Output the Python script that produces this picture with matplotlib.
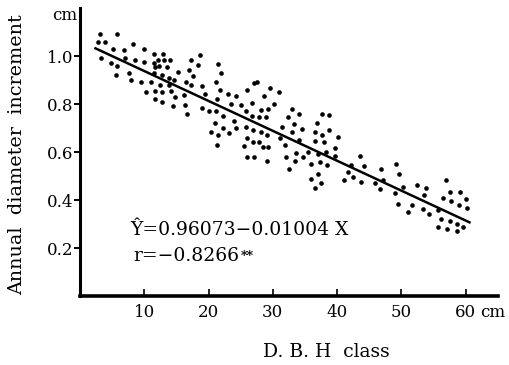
import matplotlib
matplotlib.use("Agg")
import matplotlib.pyplot as plt

# scatter points (D.B.H class in cm, increment in cm)
dbh = [
    3.1, 5.8, 2.8, 3.9, 8.2, 5.2, 6.9, 9.9, 11.5, 12.9, 3.2, 4.8, 5.8, 7.0,
    8.5, 10.0, 11.5, 12.1, 13.1, 14.0, 11.6, 12.3, 13.5, 5.6, 7.6, 11.5, 12.8,
    13.9, 7.9, 9.5, 11.0, 12.5, 13.8, 14.6, 10.3, 11.6, 12.8, 14.1, 11.6, 12.8,
    14.4, 14.7,
    18.6, 17.3, 18.4, 21.4, 15.3, 16.9, 17.5, 21.9, 16.5, 17.3, 21.1, 19.0,
    16.25, 19.4, 21.8, 23.0, 24.2, 26.0, 27.1, 21.25, 23.5, 25.1, 26.8, 16.4,
    18.9, 20.0, 21.1, 25.8, 22.2, 16.6, 24.0, 26.7, 21.0, 22.2, 24.2, 25.8,
    20.3, 21.4, 23.2, 26.9, 25.9, 21.25, 25.5, 26.9, 25.9, 27.1,
    27.6, 29.5, 30.9, 28.6, 30.2, 28.1, 29.2, 33.0, 27.8, 28.9, 34.0, 32.3,
    37.7, 38.7, 36.9, 33.3, 28.1, 29.1, 31.5, 34.5, 36.6, 37.7, 38.8, 31.1,
    33.0, 27.8, 34.1, 36.5, 37.9, 39.6, 31.9, 28.4, 29.3, 32.0, 33.6, 35.4,
    37.0, 38.3, 29.1, 33.5, 34.7, 36.0, 37.3, 38.5, 32.5, 37.1, 36.0, 37.5,
    36.6,
    40.2, 39.6, 43.6, 42.1, 44.2, 41.7, 41.0, 42.4, 43.75, 46.8, 49.2, 49.6,
    45.9, 46.6, 47.1, 50.3, 49.0, 49.5,
    52.4, 53.8, 56.9, 57.5, 59.1, 56.5, 57.7, 60.0, 53.5, 51.7, 53.3, 51.1,
    54.3, 55.7, 58.9, 60.2, 56.1, 57.5, 58.7, 59.6, 55.7, 57.1, 58.6,
]
increment = [
    1.09, 1.09, 1.06, 1.06, 1.05, 1.03, 1.025, 1.03, 1.007, 1.01, 0.99, 0.97,
    0.96, 0.99, 0.985, 0.976, 0.97, 0.985, 0.985, 0.985, 0.955, 0.96, 0.955,
    0.92, 0.93, 0.93, 0.92, 0.91, 0.90, 0.89, 0.89, 0.88, 0.88, 0.90, 0.85,
    0.855, 0.85, 0.855, 0.82, 0.81, 0.79, 0.83,
    1.004, 0.983, 0.9625, 0.965, 0.935, 0.94, 0.917, 0.93, 0.89, 0.88, 0.89,
    0.875, 0.8375, 0.84, 0.86, 0.84, 0.835, 0.86, 0.886, 0.82, 0.80, 0.796,
    0.805, 0.796, 0.785, 0.77, 0.77, 0.77, 0.75, 0.76, 0.73, 0.75, 0.72, 0.70,
    0.70, 0.705, 0.685, 0.67, 0.68, 0.69, 0.66, 0.63, 0.625, 0.64, 0.58, 0.58,
    0.89, 0.865, 0.85, 0.833, 0.80, 0.775, 0.78, 0.78, 0.747, 0.747, 0.758,
    0.745, 0.758, 0.754, 0.72, 0.717, 0.685, 0.67, 0.705, 0.696, 0.685, 0.67,
    0.69, 0.657, 0.685, 0.643, 0.65, 0.647, 0.643, 0.615, 0.63, 0.62, 0.622,
    0.578, 0.597, 0.60, 0.59, 0.60, 0.564, 0.564, 0.578, 0.55, 0.56, 0.546,
    0.53, 0.508, 0.486, 0.47, 0.45,
    0.664, 0.585, 0.583, 0.546, 0.54, 0.518, 0.483, 0.494, 0.475, 0.53, 0.549,
    0.508, 0.47, 0.446, 0.483, 0.456, 0.428, 0.382,
    0.4625, 0.449, 0.483, 0.432, 0.432, 0.41, 0.397, 0.404, 0.42, 0.38,
    0.3625, 0.35, 0.34, 0.358, 0.38, 0.368, 0.32, 0.3125, 0.30, 0.289, 0.289,
    0.278, 0.272,
]

# fitted line as drawn in the figure
fit_x = [2.4, 60.6]
fit_y = [1.032, 0.307]

x_ticks = [10, 20, 30, 40, 50, 60]
y_ticks = [0.2, 0.4, 0.6, 0.8, 1.0]
y_tick_labels = ["0.2", "0.4", "0.6", "0.8", "1.0"]

plt.rcParams["font.family"] = ["DejaVu Serif"]

fig = plt.figure(figsize=(5.1, 3.65), dpi=100)
ax = fig.add_axes([0.157, 0.189, 0.819, 0.789])

ax.scatter(dbh, increment, s=11, c="black", linewidths=0)
ax.plot(fit_x, fit_y, color="black", lw=1.8)

ax.set_xlim(0, 65)
ax.set_ylim(0, 1.2)

for side in ["top", "right"]:
    ax.spines[side].set_visible(False)
ax.spines["left"].set_linewidth(2.2)
ax.spines["bottom"].set_linewidth(2.6)

ax.set_xticks(x_ticks)
ax.set_yticks(y_ticks)
ax.set_yticklabels(y_tick_labels)
ax.tick_params(axis="x", direction="in", length=5, width=1.2, labelsize=12, pad=6)
ax.tick_params(axis="y", direction="out", length=4, width=1.4, labelsize=12, pad=1)

# units
ax.text(-0.006, 0.975, "cm", transform=ax.transAxes, ha="right", va="center", fontsize=12)
ax.text(62.2, -0.058, "cm", transform=ax.get_xaxis_transform(), ha="left", va="center", fontsize=12)

ax.set_xlabel("D. B. H  class", fontsize=13.5)
ax.xaxis.set_label_coords(0.59, -0.162)
ax.set_ylabel("Annual  diameter  increment", fontsize=13.8)
ax.yaxis.set_label_coords(-0.13, 0.49)

# regression equation
ax.text(7.8, 0.277, "Ŷ=0.96073−0.01004 X", fontsize=13.5, va="center")
r_txt = ax.text(8.3, 0.166, "r=−0.8266", fontsize=13.5, va="center")
ax.annotate("**", xy=(1, 1), xycoords=r_txt, xytext=(1, -2), textcoords="offset points",
            ha="left", va="top", fontsize=9, fontweight="bold")

plt.savefig("out.png", dpi=100)
plt.close()
